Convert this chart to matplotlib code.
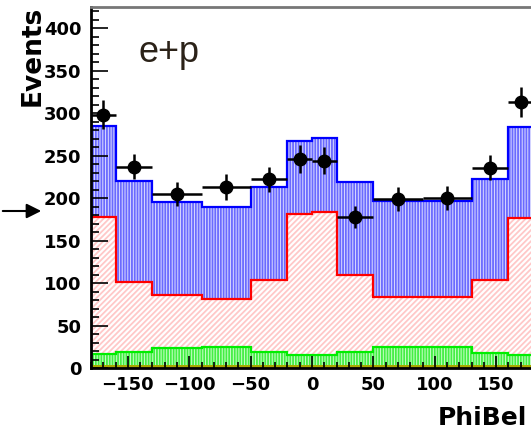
import numpy as np
import matplotlib
matplotlib.use("Agg")
import matplotlib.pyplot as plt
from matplotlib.ticker import MultipleLocator

# bin edges (degrees) and contents
edges = [-180, -160, -130, -90, -50, -20, 0, 20, 50, 90, 130, 160, 180]
total = [285, 220, 195, 190, 213, 267, 271, 219, 197, 197, 222, 284]
red_part = [178, 101, 86, 81, 104, 181, 184, 110, 83, 83, 104, 177]
green_part = [17, 19, 24, 25, 19, 15, 15, 19, 25, 25, 18, 15]
yellow_part = [3, 3, 3, 3, 3, 3, 3, 3, 3, 3, 3, 3]
data = [298, 237, 205, 213, 222, 246, 244, 178, 199, 200, 236, 313]
data_err = [17, 15, 14, 15, 15, 16, 16, 13, 14, 14, 15, 18]

plt.rcParams['hatch.linewidth'] = 1.3

fig = plt.figure(figsize=(5.31, 4.33), dpi=100)
ax = fig.add_axes([91/531, 65/433, 442/531, 361/433])

e = np.array(edges)
centers = (e[:-1] + e[1:]) / 2
halfw = (e[1:] - e[:-1]) / 2

# filled stacks
ax.stairs(total, edges, fill=True, facecolor='#dcdcff', edgecolor='#6a6aff', hatch='||||||', linewidth=0)
ax.stairs(red_part, edges, fill=True, facecolor='white', edgecolor='#ffc8c8', hatch='//////', linewidth=0)
ax.stairs(green_part, edges, fill=True, facecolor='#ccffcc', edgecolor='#44ee44', hatch='||||||', linewidth=0)
ax.stairs(yellow_part, edges, fill=True, facecolor='#a8a800', linewidth=0)

# outlines
ax.stairs(total, edges, color='#0000ff', linewidth=1.6)
ax.stairs(red_part, edges, color='#ff0000', linewidth=1.6)
ax.stairs(green_part, edges, color='#00ee00', linewidth=1.6)

# data points
ax.errorbar(centers, data, xerr=halfw, yerr=data_err, fmt='o', color='black',
            markersize=9, elinewidth=1.8, capsize=0)

ax.set_xlim(-180, 180)
ax.set_ylim(0, 425)
ax.xaxis.set_major_locator(MultipleLocator(50))
ax.xaxis.set_minor_locator(MultipleLocator(10))
ax.yaxis.set_major_locator(MultipleLocator(50))
ax.yaxis.set_minor_locator(MultipleLocator(10))

ax.tick_params(axis='y', which='major', direction='in', length=12, width=1.2, pad=7,
               labelsize=13, right=False)
ax.tick_params(axis='y', which='minor', direction='in', length=6, width=1.2, right=False)
ax.tick_params(axis='x', which='major', direction='in', length=9, width=1.2, pad=6,
               labelsize=13, top=False)
ax.tick_params(axis='x', which='minor', direction='in', length=4, width=1.2, top=False)
for lab in ax.get_xticklabels() + ax.get_yticklabels():
    lab.set_fontweight('bold')

ax.spines['left'].set_linewidth(2)
ax.spines['bottom'].set_linewidth(2)
ax.spines['top'].set_color('#777777')
ax.spines['top'].set_linewidth(2)
ax.spines['right'].set_visible(False)

fig.text(138/531, 1 - 62/433, 'e+p', fontsize=26, family='Liberation Sans',
         color='#2b2218', ha='left', va='baseline')
fig.text(33/531, 1 - 6/433, 'Events', rotation=90, ha='center', va='top',
         fontsize=19, fontweight='bold')
fig.text(438/531, 1 - 425/433, 'PhiBel', ha='left', va='baseline',
         fontsize=18, fontweight='bold')

# arrow on the left edge
fig.patches.append(matplotlib.patches.FancyArrowPatch(
    (0, 1 - 211/433), (44/531, 1 - 211/433), transform=fig.transFigure,
    arrowstyle='-|>', mutation_scale=22, color='black', linewidth=1.5))

fig.savefig('out.png', dpi=100)
